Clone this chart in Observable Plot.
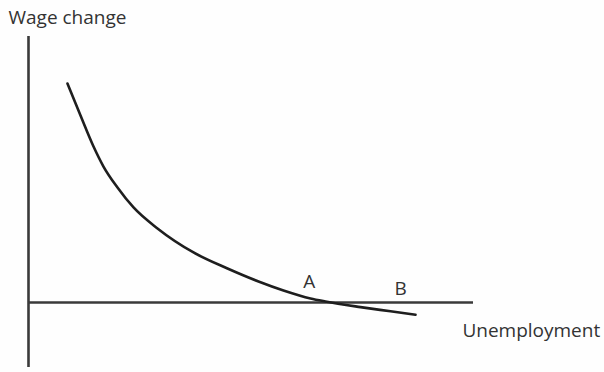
<!DOCTYPE html>
<html>
<head>
<meta charset="utf-8">
<script src="https://cdn.jsdelivr.net/npm/d3@7"></script>
<script src="https://cdn.jsdelivr.net/npm/@observablehq/plot@0.6"></script>
<style>
  html, body { margin: 0; padding: 0; background: #fefefe; }
  #chart svg { display: block; }
</style>
</head>
<body>
<div id="chart"></div>
<script>
// Phillips curve: unemployment (x) vs wage change (y)
const unemployment = [0.876, 1.169, 1.461, 1.685, 2.000, 2.360, 2.899, 3.708, 4.472, 5.169, 5.730, 6.337, 6.674, 7.461, 8.135, 8.697];
const wageChange   = [7.300, 6.233, 5.200, 4.533, 3.833, 3.167, 2.467, 1.667, 1.133, 0.700, 0.400, 0.133, 0.033, -0.153, -0.293, -0.410];

// axis extents
const xAxisExtent = [0, 10];
const yAxisExtent = [-2.17, 8.87];

// text labels
const labelText = ["Wage change", "Unemployment", "A", "B"];
const labelX    = [-0.45, 9.75, 6.31, 8.36];
const labelY    = [9.47, -0.963, 0.70, 0.437];
const labelAnchor = ["start", "start", "middle", "middle"];

const curve = unemployment.map((u, i) => ({u, w: wageChange[i]}));
const labels = labelText.map((t, i) => ({t, x: labelX[i], y: labelY[i], a: labelAnchor[i]}));

const font = "'Open Sans', Lato, sans-serif";

const chart = Plot.plot({
  width: 604,
  height: 372,
  margin: 0,
  style: {background: "transparent", fontFamily: font},
  x: {domain: [0, 10], range: [28, 473], axis: null},
  y: {domain: [0, 10], range: [302, 2], axis: null},
  marks: [
    Plot.ruleX([0], {y1: yAxisExtent[0], y2: yAxisExtent[1], stroke: "#3a3a3a", strokeWidth: 2.6}),
    Plot.ruleY([0], {x1: xAxisExtent[0], x2: xAxisExtent[1], stroke: "#3a3a3a", strokeWidth: 2.6}),
    Plot.line(curve, {x: "u", y: "w", curve: "monotone-x", stroke: "#1e1e1e", strokeWidth: 2.6}),
    Plot.text(labels.filter(d => d.a === "start"), {x: "x", y: "y", text: "t", textAnchor: "start", fontSize: 19, fill: "#333"}),
    Plot.text(labels.filter(d => d.a === "middle"), {x: "x", y: "y", text: "t", textAnchor: "middle", fontSize: 19, fill: "#333"})
  ]
});
document.getElementById("chart").append(chart);
</script>
</body>
</html>
